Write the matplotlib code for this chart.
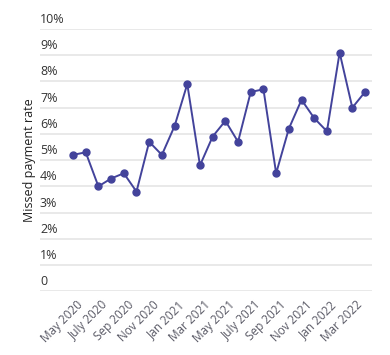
import matplotlib
matplotlib.use("Agg")
import matplotlib.pyplot as plt
import matplotlib.transforms as mtransforms

plt.rcParams['font.family'] = ['Open Sans', 'DejaVu Sans']

# monthly values, Apr 2020 - Mar 2022
months = ["Apr 2020", "May 2020", "Jun 2020", "July 2020", "Aug 2020", "Sep 2020",
          "Oct 2020", "Nov 2020", "Dec 2020", "Jan 2021", "Feb 2021", "Mar 2021",
          "Apr 2021", "May 2021", "Jun 2021", "July 2021", "Aug 2021", "Sep 2021",
          "Oct 2021", "Nov 2021", "Dec 2021", "Jan 2022", "Feb 2022", "Mar 2022"]
missed_rate = [5.2, 5.3, 4.0, 4.3, 4.5, 3.8, 5.7, 5.2, 6.3, 7.9, 4.8, 5.9,
               6.5, 5.7, 7.6, 7.7, 4.5, 6.2, 7.3, 6.6, 6.1, 9.1, 7.0, 7.6]
y_ticks = [0, 1, 2, 3, 4, 5, 6, 7, 8, 9, 10]

W, H = 390, 355
fig = plt.figure(figsize=(W / 100, H / 100), dpi=100)
# plot area in pixels: x 40..372, y 29..291
ax = fig.add_axes([40 / W, 1 - 291.3 / H, 332 / W, 262.3 / H])

x = list(range(len(months)))
ax.plot(x, missed_rate, color="#43439B", linewidth=1.4, marker="o",
        markersize=5, zorder=3)

ax.set_xlim(-2.6, 23.55)
ax.set_ylim(0, 10)

for s in ax.spines.values():
    s.set_visible(False)

# gridlines with labels sitting on top of them
ax.set_yticks(y_ticks)
ax.set_yticklabels([])
ax.tick_params(axis="y", length=0)
ax.grid(axis="y", color="#E3E3E3", linewidth=1.1)
ax.set_axisbelow(True)
trans = mtransforms.blended_transform_factory(ax.transAxes, ax.transData)
offset = mtransforms.ScaledTranslation(0, 3 / 100, fig.dpi_scale_trans)
for v in y_ticks:
    lbl = "0" if v == 0 else f"{v}%"
    ax.text(0, v, lbl, transform=trans + offset, ha="left", va="bottom",
            fontsize=9, color="#333333")

# every second month labelled
ax.set_xticks(x[1::2])
ax.set_xticklabels(months[1::2], rotation=45, ha="right", fontsize=8.5,
                   color="#5A5A66", rotation_mode="default")
ax.tick_params(axis="x", length=0, pad=5)

fig.text(30 / W, 1 - 160 / H, "Missed payment rate", rotation=90,
         ha="center", va="center", fontsize=9, color="#222222")

fig.savefig("out.png", dpi=100)
